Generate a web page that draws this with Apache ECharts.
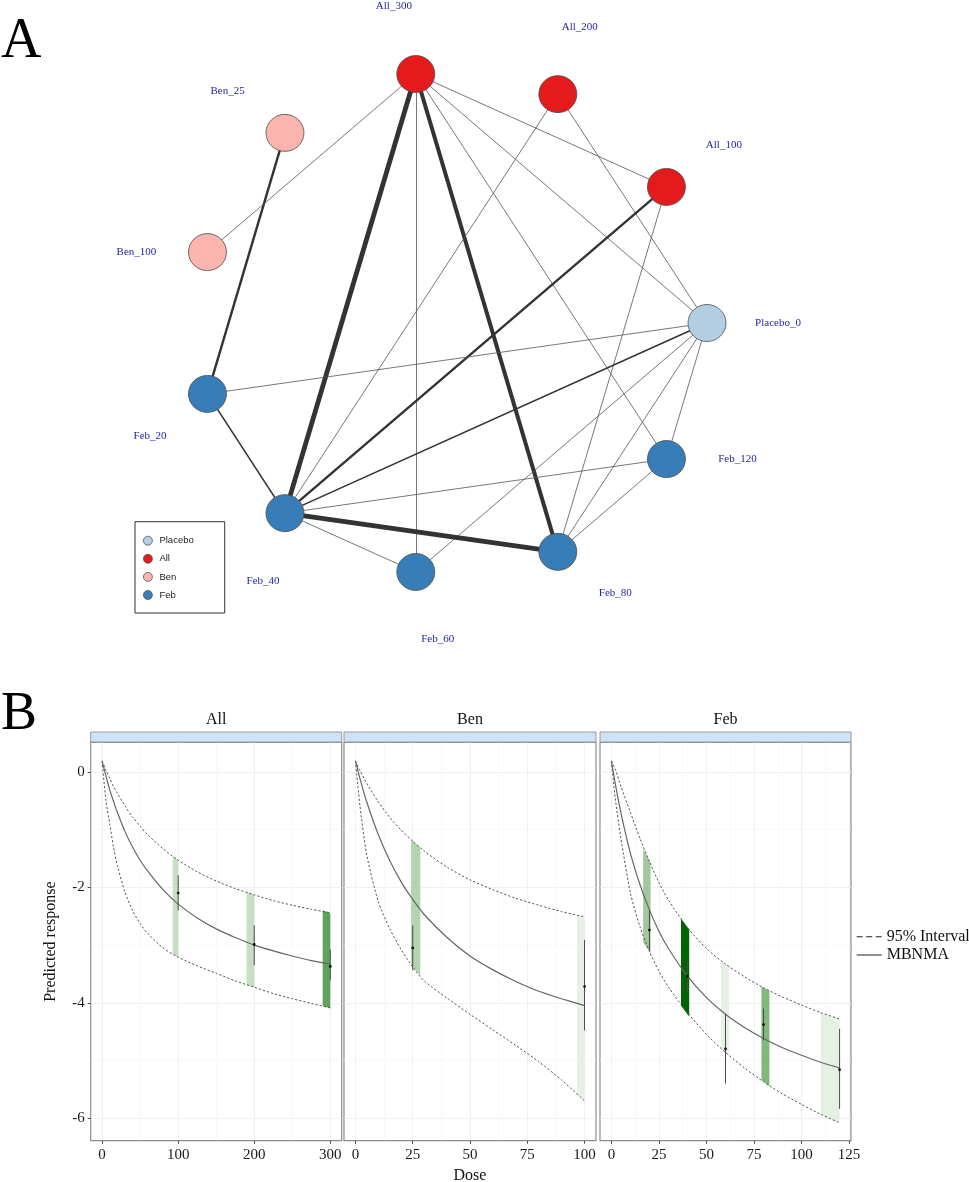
<!DOCTYPE html>
<html><head><meta charset="utf-8">
<script src="https://cdn.jsdelivr.net/npm/echarts@6/dist/echarts.min.js"></script>
<style>html,body{margin:0;padding:0;background:#fff}#c{width:969px;height:1182px}</style>
</head><body><div id="c"></div>
<script>
// ---------------- Panel A: network data ----------------
const nodeNames = ['Placebo_0','All_100','All_200','All_300','Ben_25','Ben_100','Feb_20','Feb_40','Feb_60','Feb_80','Feb_120'];
const nodeClass = ['Placebo','All','All','All','Ben','Ben','Feb','Feb','Feb','Feb','Feb'];
// circular layout coordinates (unit circle)
const layoutX = [1.000, 0.841, 0.415, -0.142, -0.655, -0.959, -0.959, -0.655, -0.142, 0.415, 0.841];
const layoutY = [0.000, 0.541, 0.910, 0.990, 0.756, 0.282, -0.282, -0.756, -0.990, -0.910, -0.541];
const classNames = ['Placebo','All','Ben','Feb'];
const edgeFrom = ['Ben_25','Ben_100','All_300','All_300','All_300','All_300','All_300','All_300','All_200','All_200','All_100','All_100','Placebo_0','Placebo_0','Placebo_0','Placebo_0','Placebo_0','Feb_120','Feb_120','Feb_40','Feb_40','Feb_40'];
const edgeTo   = ['Feb_20','All_300','Feb_40','Feb_60','Feb_80','Feb_120','Placebo_0','All_100','Feb_40','Placebo_0','Feb_40','Feb_80','Feb_20','Feb_40','Feb_60','Feb_80','Feb_120','Feb_40','Feb_80','Feb_80','Feb_60','Feb_20'];
const edgeStudies = [3,1,6,1,5,1,1,1,1,1,3,1,1,2,1,1,1,1,1,6,1,2];

// ---------------- Panel B: dose-response data ----------------
const facetNames = ['All','Ben','Feb'];
const xMajor = [[0,100,200,300],[0,25,50,75,100],[0,25,50,75,100,125]];
const xMinor = [[50,150,250],[12.5,37.5,62.5,87.5],[12.5,37.5,62.5,87.5,112.5]];
const yMajor = [-6,-4,-2,0];
const yMinor = [-5,-3,-1];

const allDose  = [0,5,10,15,20,30,40,50,60,80,100,125,150,175,200,225,250,275,300];
const allMean  = [0.19,-0.07,-0.31,-0.51,-0.70,-1.03,-1.30,-1.53,-1.72,-2.04,-2.29,-2.53,-2.72,-2.87,-3.00,-3.10,-3.19,-3.27,-3.33];
const allUpper = [0.19,0.03,-0.11,-0.25,-0.37,-0.59,-0.78,-0.94,-1.09,-1.33,-1.53,-1.73,-1.89,-2.02,-2.13,-2.23,-2.31,-2.38,-2.44];
const allLower = [0.19,-0.50,-0.90,-1.30,-1.62,-2.08,-2.40,-2.63,-2.80,-3.05,-3.21,-3.36,-3.49,-3.62,-3.73,-3.84,-3.93,-4.01,-4.09];

const benDose  = [0,2,5,10,15,20,25,30,40,50,60,70,80,90,100];
const benMean  = [0.19,-0.12,-0.53,-1.09,-1.54,-1.91,-2.21,-2.47,-2.87,-3.19,-3.43,-3.63,-3.80,-3.93,-4.05];
const benUpper = [0.19,0.02,-0.20,-0.52,-0.79,-1.01,-1.20,-1.37,-1.65,-1.87,-2.04,-2.19,-2.31,-2.42,-2.51];
const benLower = [0.19,-0.60,-1.45,-2.25,-2.72,-3.08,-3.38,-3.62,-3.92,-4.20,-4.47,-4.74,-5.02,-5.34,-5.70];

const febDose  = [0,2,5,10,15,20,25,30,40,50,60,70,80,90,100,110,120];
const febMean  = [0.19,-0.20,-0.71,-1.41,-1.95,-2.39,-2.76,-3.06,-3.54,-3.91,-4.20,-4.43,-4.62,-4.78,-4.91,-5.03,-5.13];
const febUpper = [0.19,0.05,-0.25,-0.70,-1.15,-1.55,-1.92,-2.22,-2.70,-3.06,-3.33,-3.55,-3.74,-3.90,-4.04,-4.17,-4.28];
const febLower = [0.19,-0.45,-1.15,-2.10,-2.68,-3.11,-3.45,-3.73,-4.17,-4.55,-4.86,-5.13,-5.37,-5.58,-5.76,-5.93,-6.08];

// shaded observed-dose ribbons
const barFacet   = [0,0,0,1,1,2,2,2,2,2];
const barX0      = [92.8,190,290,24.3,96.8,16.7,36.6,57.7,78.9,110];
const barX1      = [100,200,300,28.3,100,20.6,40.9,61.8,83.1,120];
const barTop0    = [-1.46,-2.08,-2.40,-1.17,-2.48,-1.33,-2.54,-3.27,-3.72,-4.17];
const barTop1    = [-1.53,-2.13,-2.44,-1.31,-2.51,-1.58,-2.73,-3.37,-3.80,-4.28];
const barBot0    = [-3.16,-3.69,-4.06,-3.35,-5.58,-2.95,-4.05,-4.79,-5.34,-5.93];
const barBot1    = [-3.21,-3.73,-4.09,-3.53,-5.70,-3.15,-4.24,-4.91,-5.44,-6.08];
const barStudies = [2,2,6,3,1,4,9,1,5,1];

// split estimates (point + interval)
const ebFacet = [0,0,0,1,1,2,2,2,2,2];
const ebDose  = [100,200,300,25,100,20,40,60,80,120];
const ebLow   = [-2.40,-3.35,-3.61,-3.44,-4.48,-3.09,-3.81,-5.40,-4.65,-5.84];
const ebHigh  = [-1.79,-2.66,-3.08,-2.66,-2.91,-2.40,-3.27,-4.19,-4.10,-4.45];
const ebMid   = [-2.10,-2.99,-3.37,-3.05,-3.72,-2.74,-3.54,-4.80,-4.38,-5.16];

// ---------------- styles / layout ----------------
const classColors = {Placebo:'#b3cde3', All:'#e41a1c', Ben:'#fbb4ae', Feb:'#377eb8'};
const labelAngle = [0,324,288,252,216,180,144,108,72,36,0];
const LABEL_DIST = 71;
const EDGE_W = 0.8;
const studyColor = {1:'#e6f0e4',2:'#c6dfc3',3:'#b2d4ae',4:'#a0c89c',5:'#80b97c',6:'#5ea35c',9:'#006400'};
const SERIF = '"Liberation Serif", "Times New Roman", serif';
const panels = [
  {left:90.7, width:251, xmin:-15, xmax:315},
  {left:344, width:252, xmin:-5, xmax:105},
  {left:600, width:251, xmin:-6, xmax:126}
];
const PTOP = 742.5, PH = 398.2, YMIN = -6.39, YMAX = 0.51;

const curves = [
  {dose:allDose, mean:allMean, up:allUpper, lo:allLower},
  {dose:benDose, mean:benMean, up:benUpper, lo:benLower},
  {dose:febDose, mean:febMean, up:febUpper, lo:febLower}
];

const chart = echarts.init(document.getElementById('c'));

const grids = [{left:69.5, top:21.2, width:765, height:603.6, outerBoundsMode:'none', containLabel:false}];
const xAxes = [{gridIndex:0, type:'value', min:-1.5, max:1.5, show:false}];
const yAxes = [{gridIndex:0, type:'value', min:-1.2, max:1.2, show:false}];
panels.forEach((p,i)=>{
  grids.push({left:p.left, top:PTOP, width:p.width, height:PH, show:true, borderColor:'#8c8c8c', borderWidth:1.2, outerBoundsMode:'none', containLabel:false});
});
panels.forEach((p,i)=>{
  xAxes.push({gridIndex:i+1, type:'value', position:'bottom', min:p.xmin, max:p.xmax,
    axisLine:{show:false, onZero:false},
    axisTick:{show:true, length:3, lineStyle:{color:'#444', width:1}, customValues:xMajor[i]},
    axisLabel:{customValues:xMajor[i], fontFamily:SERIF, fontSize:15, color:'#1a1a1a', margin:6.5},
    splitLine:{show:true, lineStyle:{color:'#ececec', width:0.8}},
    name: i===1 ? 'Dose' : '', nameLocation:'middle', nameGap:27,
    nameTextStyle:{fontFamily:SERIF, fontSize:16, color:'#111'}
  });
  yAxes.push({gridIndex:i+1, type:'value', position:'left', min:YMIN, max:YMAX,
    axisLine:{show:false, onZero:false},
    axisTick:{show:i===0, length:3, lineStyle:{color:'#444', width:1}, customValues:yMajor},
    axisLabel:{show:i===0, customValues:yMajor, fontFamily:SERIF, fontSize:15, color:'#1a1a1a', margin:6},
    splitLine:{show:true, lineStyle:{color:'#ececec', width:0.8}},
    name: i===0 ? 'Predicted response' : '', nameLocation:'middle', nameGap:32,
    nameTextStyle:{fontFamily:SERIF, fontSize:16, color:'#111'}
  });
});
panels.forEach((p,i)=>{
  xAxes.push({gridIndex:i+1, type:'value', position:'bottom', min:p.xmin, max:p.xmax, axisLine:{show:false, onZero:false},
    axisTick:{show:false, customValues:xMinor[i]}, axisLabel:{show:false, customValues:xMinor[i]},
    splitLine:{show:true, lineStyle:{color:'#f5f5f5', width:0.6}}});
  yAxes.push({gridIndex:i+1, type:'value', position:'left', min:YMIN, max:YMAX, axisLine:{show:false, onZero:false},
    axisTick:{show:false, customValues:yMinor}, axisLabel:{show:false, customValues:yMinor},
    splitLine:{show:true, lineStyle:{color:'#f5f5f5', width:0.6}}});
});

const series = [];
// network
series.push({
  type:'graph', coordinateSystem:'cartesian2d', xAxisIndex:0, yAxisIndex:0, layout:'none',
  symbol:'circle', symbolSize:[38,37], z:2, silent:true,
  categories: classNames.map(n=>({name:n, itemStyle:{color:classColors[n]}})),
  data: nodeNames.map((n,i)=>({
    name:n, value:[layoutX[i], layoutY[i]], category:classNames.indexOf(nodeClass[i]),
    label:{offset:[LABEL_DIST*Math.cos(labelAngle[i]*Math.PI/180), LABEL_DIST*Math.sin(labelAngle[i]*Math.PI/180)]}
  })),
  links: edgeFrom.map((s,i)=>({source:s, target:edgeTo[i], lineStyle:{width:EDGE_W*edgeStudies[i], color: edgeStudies[i] > 1 ? '#333' : '#555'}})),
  lineStyle:{color:'#3a3a3a', opacity:1, curveness:0},
  itemStyle:{borderColor:'#4d4d4d', borderWidth:0.8},
  label:{show:true, position:'inside', formatter:'{b}', fontFamily:SERIF, fontSize:11, color:'#2424a8'},
  emphasis:{disabled:true}
});
// ribbons
panels.forEach((p,fi)=>{
  const d = [];
  barFacet.forEach((f,k)=>{ if(f===fi) d.push([barX0[k],barX1[k],barTop0[k],barTop1[k],barBot0[k],barBot1[k],barStudies[k]]); });
  series.push({type:'custom', xAxisIndex:fi+1, yAxisIndex:fi+1, z:1, silent:true, data:d,
    renderItem:(params, api)=>{
      const pts = [api.coord([api.value(0),api.value(2)]), api.coord([api.value(1),api.value(3)]),
                   api.coord([api.value(1),api.value(5)]), api.coord([api.value(0),api.value(4)])];
      return {type:'polygon', shape:{points:pts}, style:{fill:studyColor[api.value(6)]}};
    }});
});
// curves
curves.forEach((c,fi)=>{
  const mk = (arr)=>c.dose.map((x,k)=>[x,arr[k]]);
  const base = {type:'line', xAxisIndex:fi+1, yAxisIndex:fi+1, showSymbol:false, symbol:'none', smooth:0.25, silent:true, z:3};
  series.push(Object.assign({}, base, {name:'95% Interval', data:mk(c.up), color:'#333', lineStyle:{color:'#555', width:1, type:[2.2,2]}}));
  series.push(Object.assign({}, base, {name:'95% Interval', data:mk(c.lo), color:'#333', lineStyle:{color:'#555', width:1, type:[2.2,2]}}));
  series.push(Object.assign({}, base, {name:'MBNMA', data:mk(c.mean), color:'#333', lineStyle:{color:'#666', width:1.2}}));
});
// split estimates
panels.forEach((p,fi)=>{
  const d = [];
  ebFacet.forEach((f,k)=>{ if(f===fi) d.push([ebDose[k],ebLow[k],ebHigh[k],ebMid[k]]); });
  series.push({type:'custom', xAxisIndex:fi+1, yAxisIndex:fi+1, z:4, silent:true, data:d,
    renderItem:(params, api)=>{
      const x = api.value(0);
      const lo = api.coord([x,api.value(1)]), hi = api.coord([x,api.value(2)]), m = api.coord([x,api.value(3)]);
      return {type:'group', children:[
        {type:'line', shape:{x1:lo[0],y1:lo[1],x2:hi[0],y2:hi[1]}, style:{stroke:'#4a4a4a', lineWidth:1}},
        {type:'circle', shape:{cx:m[0],cy:m[1],r:1.4}, style:{fill:'#111'}}
      ]};
    }});
});

const graphics = [
  {type:'text', x:1, y:42.5, style:{text:'A', font:'56px ' + SERIF, fill:'#000', verticalAlign:'middle'}},
  {type:'text', x:1, y:715, style:{text:'B', font:'54px ' + SERIF, fill:'#000', verticalAlign:'middle'}}
];
panels.forEach((p,i)=>{
  graphics.push({type:'rect', shape:{x:p.left, y:732, width:p.width, height:10}, style:{fill:'#cde4f8', stroke:'#9a9a9a', lineWidth:1}});
  graphics.push({type:'text', x:p.left+p.width/2, y:719.5, style:{text:facetNames[i], font:'16px ' + SERIF, fill:'#111', align:'center', verticalAlign:'middle'}});
});

chart.setOption({
  animation:false,
  backgroundColor:'#fff',
  grid: grids, xAxis: xAxes, yAxis: yAxes,
  legend:[
    {data:classNames, orient:'vertical', left:135, top:521.7, padding:[14,31,13,8], itemGap:8.1,
     itemWidth:13, itemHeight:9, icon:'circle', borderColor:'#333', borderWidth:1, selectedMode:false,
     textStyle:{fontFamily:'"Liberation Sans", Arial, sans-serif', fontSize:9.5, color:'#222', lineHeight:10},
     itemStyle:{borderColor:'#555', borderWidth:0.8}},
    {data:[{name:'95% Interval', icon:'path://M0,0h6v1h-6zM9.5,0h6v1h-6zM19,0h6v1h-6z'},
           {name:'MBNMA', icon:'path://M0,0h25v1h-25z'}],
     orient:'vertical', left:856.7, top:928.7, padding:0, itemGap:2.3, itemWidth:25, itemHeight:1.3,
     selectedMode:false, itemStyle:{color:'#222', borderWidth:0},
     textStyle:{fontFamily:SERIF, fontSize:16, color:'#111', lineHeight:16}}
  ],
  graphic: graphics,
  series: series
});
</script></body></html>
